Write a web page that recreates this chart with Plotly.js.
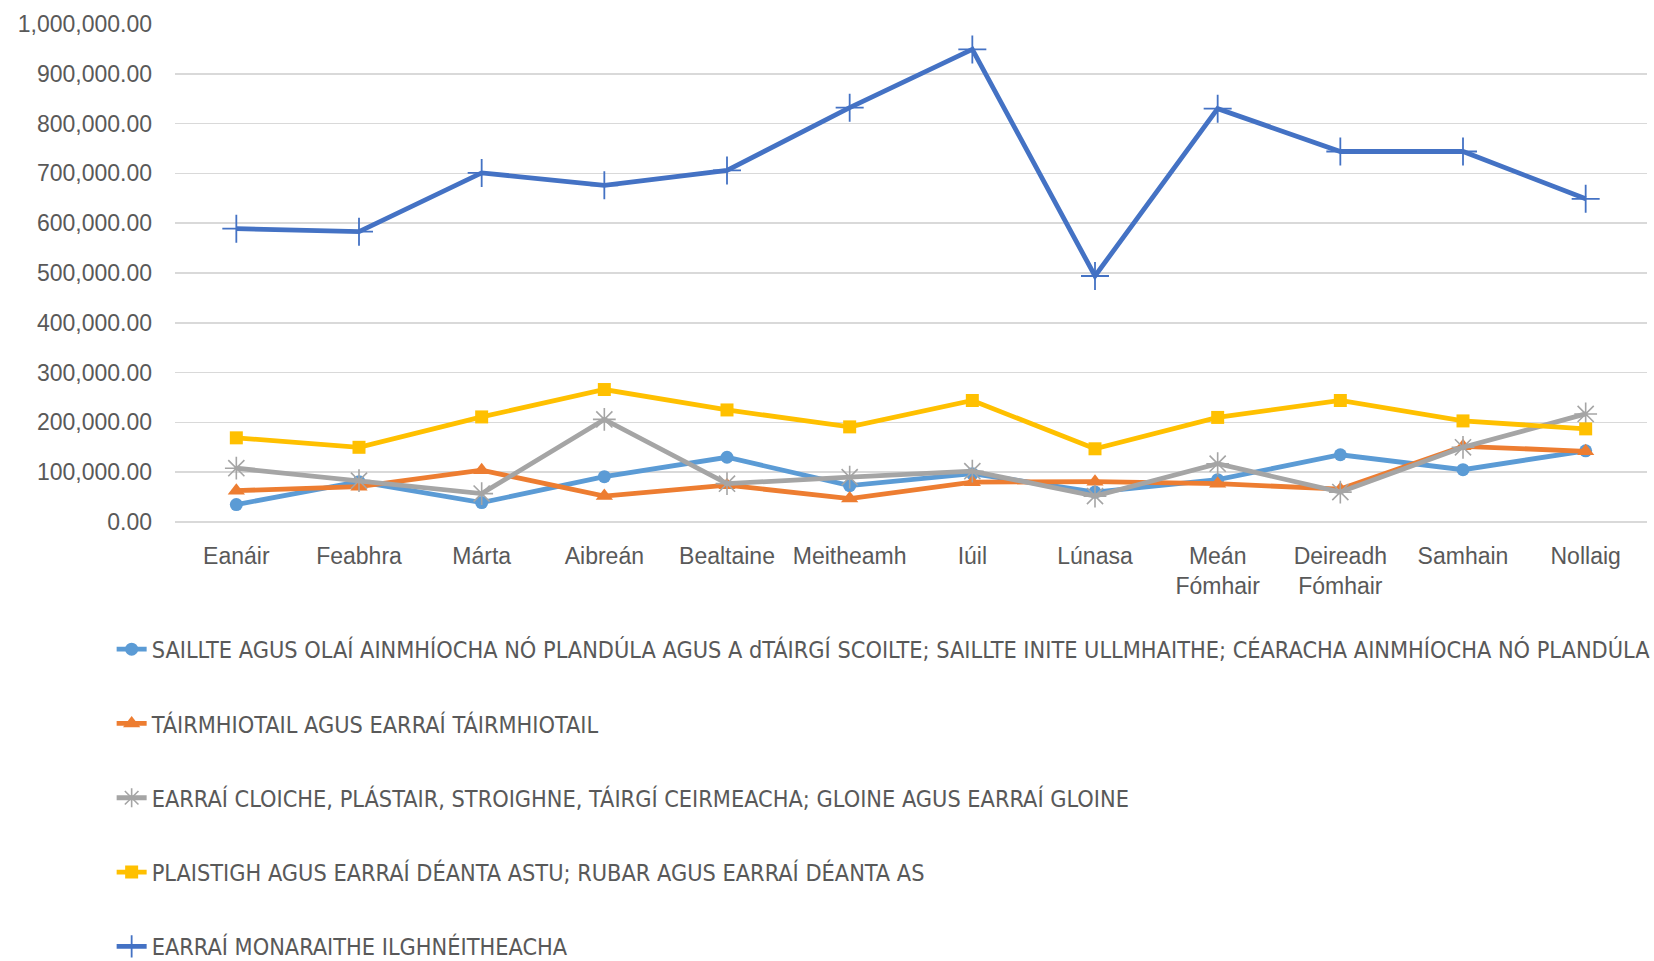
<!DOCTYPE html>
<html>
<head>
<meta charset="utf-8">
<script src="https://cdn.plot.ly/plotly-3.0.1.min.js"></script>
<style>html,body{margin:0;padding:0;background:#fff;}#chart{width:1654px;height:961px;}</style>
</head>
<body>
<div id="chart"></div>
<script>
const months = ["Eanáir","Feabhra","Márta","Aibreán","Bealtaine","Meitheamh","Iúil","Lúnasa","Meán<br>Fómhair","Deireadh<br>Fómhair","Samhain","Nollaig"];

const nameSaillte = "SAILLTE AGUS OLAÍ AINMHÍOCHA NÓ PLANDÚLA AGUS A dTÁIRGÍ SCOILTE; SAILLTE INITE ULLMHAITHE; CÉARACHA AINMHÍOCHA NÓ PLANDÚLA";
const nameTairmhiotail = "TÁIRMHIOTAIL AGUS EARRAÍ TÁIRMHIOTAIL";
const nameCloiche = "EARRAÍ CLOICHE, PLÁSTAIR, STROIGHNE, TÁIRGÍ CEIRMEACHA; GLOINE AGUS EARRAÍ GLOINE";
const namePlaistigh = "PLAISTIGH AGUS EARRAÍ DÉANTA ASTU; RUBAR AGUS EARRAÍ DÉANTA AS";
const nameMonaraithe = "EARRAÍ MONARAITHE ILGHNÉITHEACHA";

const saillte      = [35000, 81000, 39000, 91000, 130000, 73000, 97000, 60000, 85000, 135000, 105000, 143000];
const tairmhiotail = [63000, 71000, 104000, 52000, 74000, 47000, 80000, 81000, 77000, 66000, 152000, 142000];
const cloiche      = [108000, 83000, 57000, 206000, 77000, 90000, 102000, 52000, 117000, 60000, 150000, 217000];
const plaistigh    = [169000, 150000, 211000, 266000, 225000, 191000, 244000, 147000, 210000, 244000, 203000, 187000];
const monaraithe   = [589000, 583000, 701000, 676000, 706000, 832000, 949000, 494000, 830000, 744000, 744000, 649000];

const textColor = "#595959";
const font = "Liberation Sans, Arial, sans-serif";
const legendFont = "DejaVu Sans Condensed, Liberation Sans, sans-serif";

function tr(name, y, color, symbol, size, mline, group) {
  return {
    type: "scatter", mode: "lines+markers", name: name, x: months, y: y,
    legendgroup: group,
    line: {color: color, width: 4.8},
    marker: {color: color, symbol: symbol, size: size, line: {color: color, width: mline}},
    hoverinfo: "x+y"
  };
}

const data = [
  tr(nameSaillte, saillte, "#5B9BD5", "circle", 13, 0, "g1"),
  tr(nameTairmhiotail, tairmhiotail, "#ED7D31", "triangle-up", 15, 0, "g2"),
  tr(nameCloiche, cloiche, "#A5A5A5", "asterisk-open", 19, 1.6, "g3"),
  tr(namePlaistigh, plaistigh, "#FFC000", "square", 13, 0, "g4"),
  tr(nameMonaraithe, monaraithe, "#4472C4", "cross-thin-open", 20, 1.8, "g5")
];

const layout = {
  width: 1654, height: 961,
  paper_bgcolor: "#ffffff", plot_bgcolor: "#ffffff",
  margin: {l: 175, r: 7, t: 24, b: 439, pad: 0, autoexpand: false},
  font: {family: font, color: textColor, size: 22},
  showlegend: true,
  legend: {
    orientation: "v",
    xref: "container", yref: "container",
    x: 0.0675, xanchor: "left",
    y: 0.347, yanchor: "top",
    font: {family: legendFont, size: 23.3, color: textColor},
    tracegroupgap: 41,
    traceorder: "grouped",
    bgcolor: "rgba(0,0,0,0)",
    itemclick: false, itemdoubleclick: false
  },
  xaxis: {
    type: "category",
    range: [-0.5, 11.5],
    showgrid: false, zeroline: false, showline: false,
    ticks: "",
    tickfont: {family: font, size: 23, color: textColor},
    ticklabelstandoff: 18,
    automargin: false,
    fixedrange: true
  },
  yaxis: {
    range: [0, 1000000],
    dtick: 100000,
    tickformat: ",.2f",
    showgrid: true, gridcolor: "#D9D9D9", gridwidth: 1.5,
    zeroline: true, zerolinecolor: "#D9D9D9", zerolinewidth: 1.5,
    showline: false, ticks: "",
    tickfont: {family: font, size: 23, color: textColor},
    ticklabelstandoff: 22,
    automargin: false,
    fixedrange: true
  }
};

Plotly.newPlot("chart", data, layout, {displayModeBar: false, staticPlot: true});
</script>
</body>
</html>
